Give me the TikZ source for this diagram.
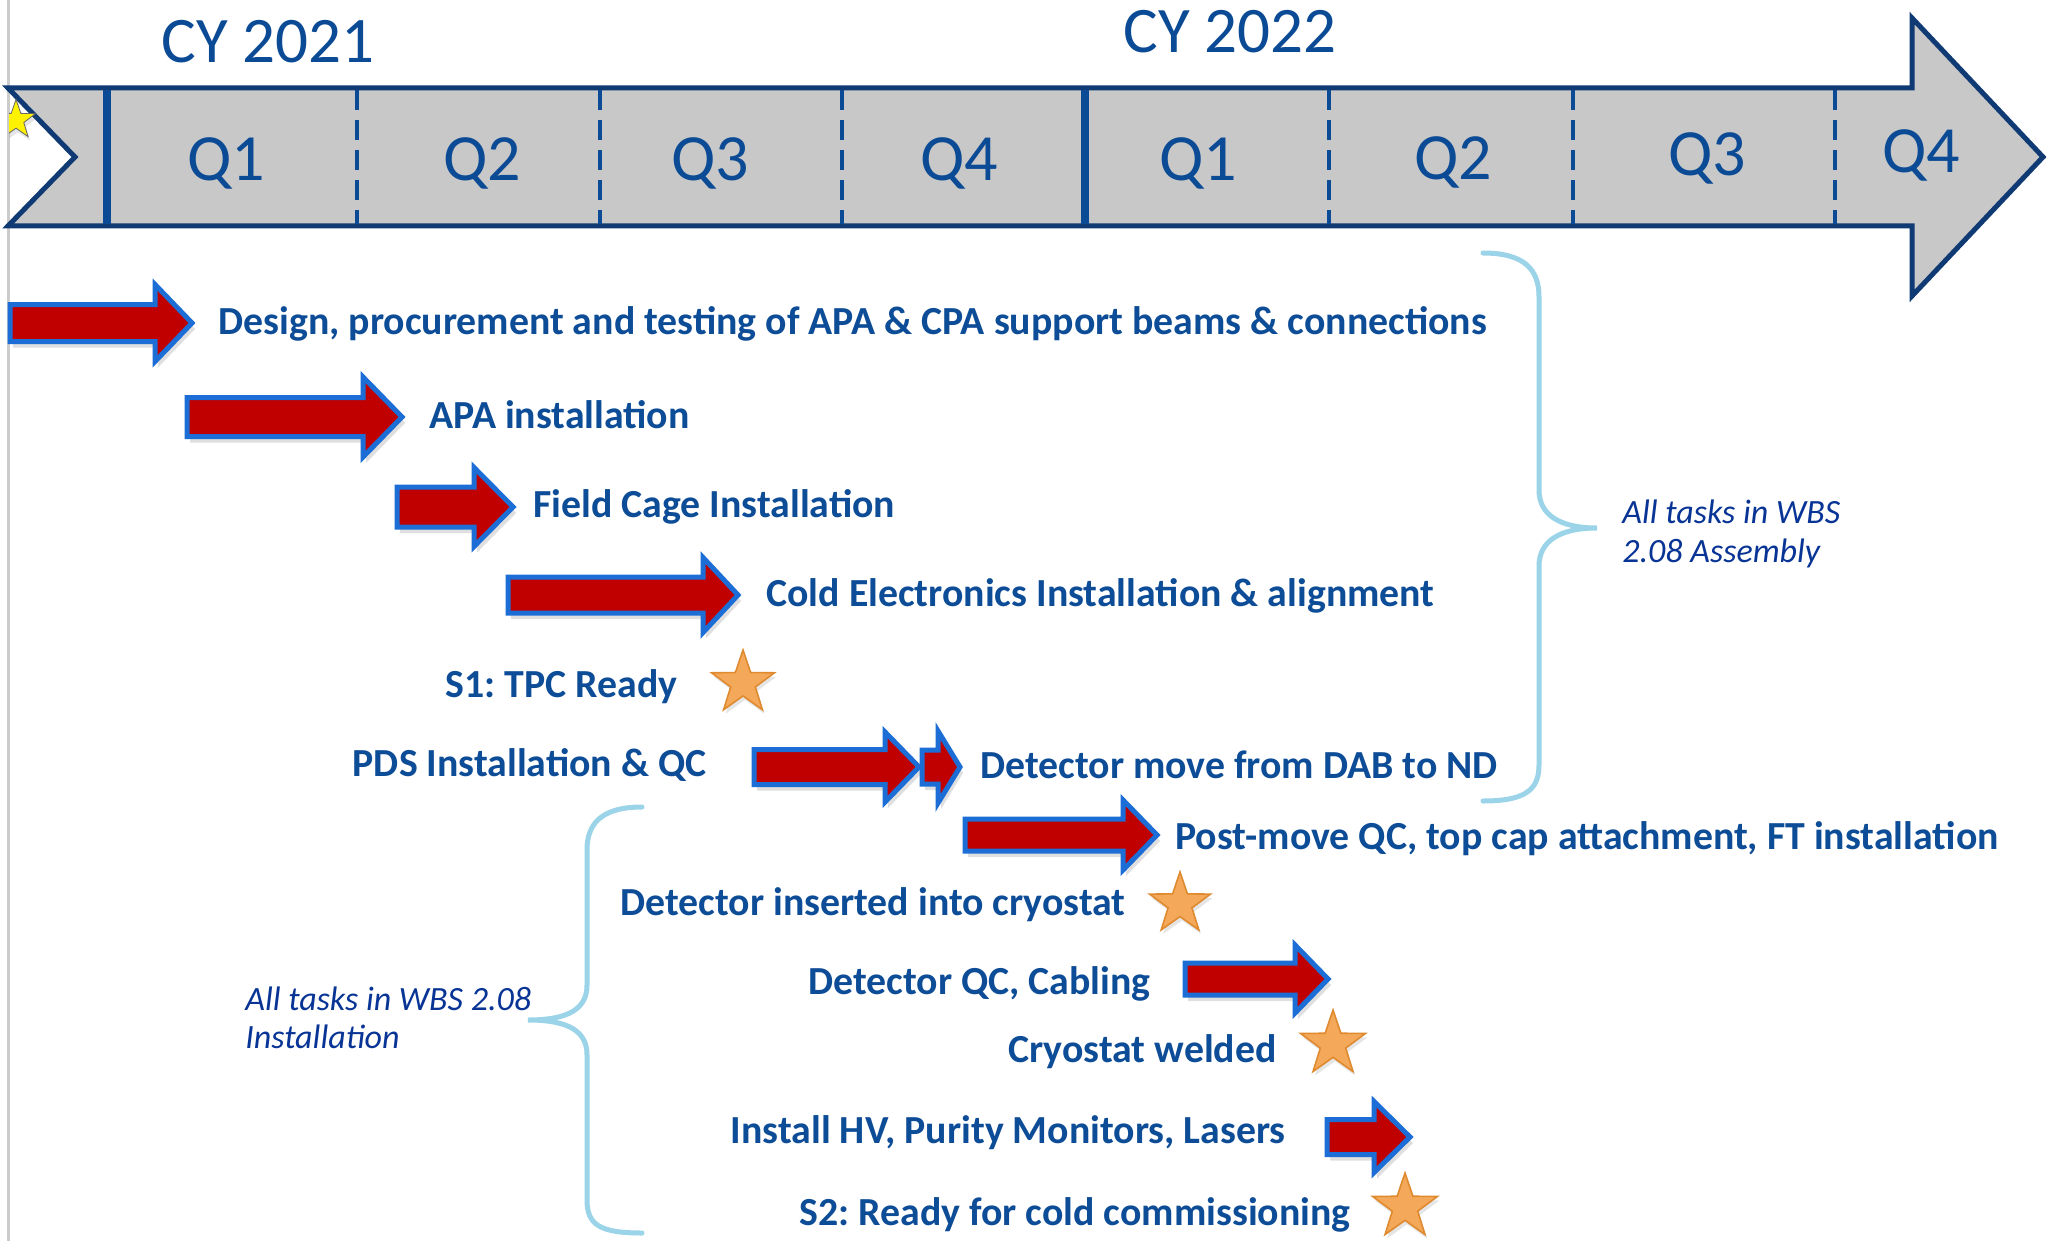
\documentclass[tikz,border=0pt]{standalone}
\usepackage{fontspec}
\setmainfont{Carlito}
\usetikzlibrary{shapes.geometric,shadows}
\frenchspacing
\definecolor{txtblue}{RGB}{13,76,150}
\definecolor{itblue}{RGB}{8,52,150}
\definecolor{navy}{RGB}{15,58,115}
\definecolor{sepblue}{RGB}{11,74,148}
\definecolor{bandgray}{RGB}{200,200,200}
\definecolor{arrred}{RGB}{192,0,0}
\definecolor{arrblue}{RGB}{28,110,214}
\definecolor{bracecol}{RGB}{155,211,232}
\definecolor{starfill}{RGB}{244,169,90}
\definecolor{starline}{RGB}{224,138,48}
\newcommand{\tarr}[6]{\draw[taskarrow] (#1,{#4-#5}) -- (#2,{#4-#5}) -- (#2,{#4-#6}) -- (#3,#4) -- (#2,{#4+#6}) -- (#2,{#4+#5}) -- (#1,{#4+#5}) -- cycle;}
\begin{document}
\begin{tikzpicture}[x=0.5pt,y=-0.5pt,
  task/.style={font=\bfseries\fontsize{19.9}{24}\selectfont, text=txtblue, inner sep=0pt},
  qlab/.style={font=\fontsize{33}{40}\selectfont, text=sepblue, inner sep=0pt, anchor=base},
  cylab/.style={font=\fontsize{32.5}{39}\selectfont, text=sepblue, inner sep=0pt, anchor=base},
  note/.style={font=\itshape\fontsize{17}{20}\selectfont, text=itblue, inner sep=0pt, anchor=base west},
  taskarrow/.style={fill=arrred, draw=arrblue, line width=2.5pt, line join=miter, drop shadow={opacity=0.25, shadow xshift=1.5pt, shadow yshift=-3pt}},
  mstar/.style={star, star points=5, star point ratio=2.55, fill=starfill, draw=starline, line width=0.8pt, inner sep=0pt, drop shadow={opacity=0.2, shadow xshift=1pt, shadow yshift=-2pt}},
  brace/.style={draw=bracecol, line width=2.5pt, line cap=round},
  qsep/.style={draw=sepblue, line width=2pt, dash pattern=on 10pt off 5pt},
  ysep/.style={draw=sepblue, line width=4pt}]

\useasboundingbox (0,0) rectangle (2049,1241);
\fill[white] (0,0) rectangle (2049,1241);
\draw[black!20, line width=1.5pt] (8,0) -- (8,1241);

% timeline band
\draw[fill=bandgray, draw=navy, line width=2.5pt, line join=miter]
  (8,88) -- (1912,88) -- (1912,18) -- (2043,157) -- (1912,296) -- (1912,226) -- (8,226) -- (75,157) -- cycle;
\draw[ysep] (107,90) -- (107,224);
\draw[ysep] (1085,90) -- (1085,224);
\foreach \xx in {357,600,842,1329,1573,1835} \draw[qsep] (\xx,90) -- (\xx,224);

\begin{scope}
\clip (9,0) rectangle (200,300);
\node[star, star points=5, star point ratio=2.5, fill=yellow, draw=black!60, line width=0.4pt, minimum size=20.5pt, inner sep=0pt, drop shadow={opacity=0.2, shadow xshift=1pt, shadow yshift=-2pt}] (ys) at (16,120) {};
\end{scope}

\node[cylab] (cy1) at (268,63) {CY 2021};
\node[cylab] (cy2) at (1230,53) {CY 2022};
\node[qlab] (q1) at (226,181) {Q1};
\node[qlab] (q2) at (482,181) {Q2};
\node[qlab] (q3) at (710,181) {Q3};
\node[qlab] (q4) at (959,181) {Q4};
\node[qlab] (q5) at (1198,181) {Q1};
\node[qlab] (q6) at (1453,180) {Q2};
\node[qlab] (q7) at (1707,176) {Q3};
\node[qlab] (q8) at (1921,173) {Q4};

% task arrows
\tarr{10}{155}{192}{323}{18.5}{38.5}
\tarr{187}{363}{402}{417}{19.5}{40}
\tarr{397}{474}{513}{507}{20}{39.5}
\tarr{508}{703}{738}{595}{18}{37.5}
\tarr{754}{885}{919}{767}{17.5}{35}
\tarr{922}{938}{960}{767}{17}{36}
\tarr{965}{1123}{1157}{835}{16}{35}
\tarr{1185}{1295}{1328}{979}{16}{34}
\tarr{1327}{1374}{1410}{1137}{17.5}{35.5}

% stars
\node[mstar, minimum size=33pt] (st1) at (743,683) {};
\node[mstar, minimum size=32pt] (st2) at (1180,904) {};
\node[mstar, minimum size=34pt] (st3) at (1333,1044) {};
\node[mstar, minimum size=34pt] (st4) at (1405,1207) {};

% task texts
\node[task, anchor=base west] (t1) at (218,334) {Design, procurement and testing of APA \& CPA support beams \& connections};
\node[task, anchor=base west] (t2) at (429,428) {APA installation};
\node[task, anchor=base west] (t3) at (533,517) {Field Cage Installation};
\node[task, anchor=base west] (t4) at (766,606) {Cold Electronics Installation \& alignment};
\node[task, anchor=base east] (t5) at (678,697) {S1: TPC Ready};
\node[task, anchor=base east] (t6) at (707,776) {PDS Installation \& QC};
\node[task, anchor=base west] (t6b) at (980,778) {Detector move from DAB to ND};
\node[task, anchor=base west] (t7) at (1175,849) {Post-move QC, top cap attachment, FT installation};
\node[task, anchor=base east] (t8) at (1126,915) {Detector inserted into cryostat};
\node[task, anchor=base east] (t9) at (1151,994) {Detector QC, Cabling};
\node[task, anchor=base east] (t10) at (1277,1062) {Cryostat welded};
\node[task, anchor=base east] (t11) at (1286,1143) {Install HV, Purity Monitors, Lasers};
\node[task, anchor=base east] (t12) at (1351,1225) {S2: Ready for cold commissioning};

% braces
\draw[brace] (1483,253) .. controls (1525,253) and (1539,270) .. (1539,297) -- (1539,490)
  .. controls (1539,515) and (1560,528) .. (1597,528)
  .. controls (1560,528) and (1539,541) .. (1539,566) -- (1539,765)
  .. controls (1539,790) and (1525,801) .. (1483,801);
\draw[brace] (642,807) .. controls (600,807) and (587,825) .. (587,850) -- (587,985)
  .. controls (587,1008) and (570,1020) .. (528,1020)
  .. controls (570,1020) and (587,1032) .. (587,1055) -- (587,1200)
  .. controls (587,1225) and (600,1233) .. (642,1233);

\node[note] (n1a) at (1622,523) {All tasks in WBS};
\node[note] (n1b) at (1622,562) {2.08 Assembly};
\node[note] (n2a) at (245,1010) {All tasks in WBS 2.08};
\node[note] (n2b) at (245,1048) {Installation};
\end{tikzpicture}
\end{document}
